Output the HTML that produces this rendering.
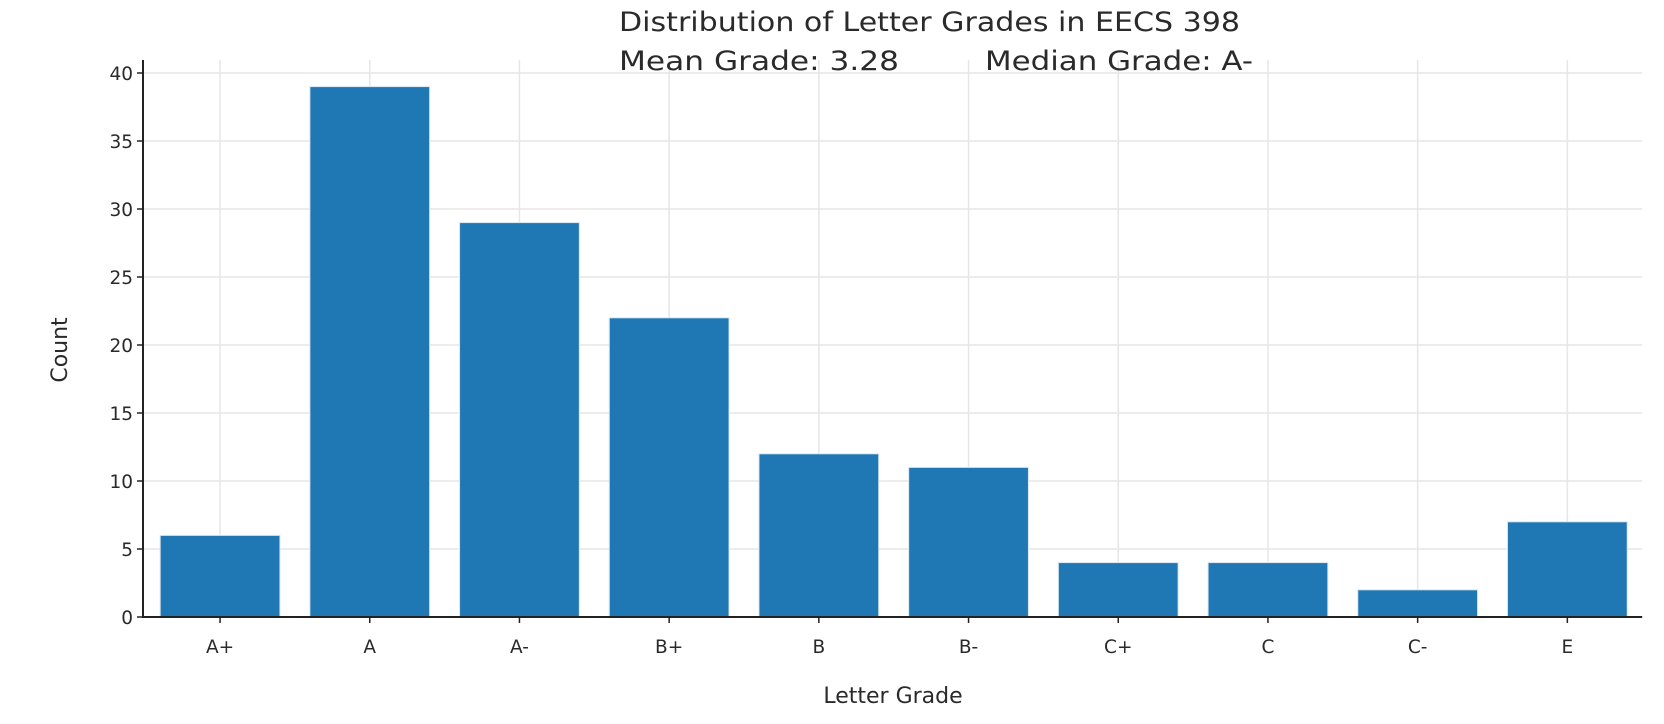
<!DOCTYPE html>
<html><head><meta charset="utf-8"><style>
html,body{margin:0;padding:0;background:#fff;}
svg{display:block;font-family:"DejaVu Sans","Liberation Sans",sans-serif;}
</style></head><body>
<svg id="chart" width="1664" height="724" viewBox="0 0 1664 724" xmlns="http://www.w3.org/2000/svg">
<g id="grid"></g>
<g id="bars"></g>
<g id="axes"></g>
<text x="619" y="31" font-size="27" fill="#2a2a2a" textLength="621" lengthAdjust="spacingAndGlyphs">Distribution of Letter Grades in EECS 398</text>
<text x="619" y="70" font-size="27" fill="#2a2a2a" textLength="280" lengthAdjust="spacingAndGlyphs">Mean Grade: 3.28</text>
<text x="985" y="70" font-size="27" fill="#2a2a2a" textLength="268" lengthAdjust="spacingAndGlyphs">Median Grade: A-</text>
<text x="0" y="0" font-size="22" fill="#2a2a2a" text-anchor="middle" transform="translate(67,350) rotate(-90)">Count</text>
<text x="893" y="703" font-size="22" fill="#2a2a2a" text-anchor="middle">Letter Grade</text>
</svg>
<script>
const categories = ["A+","A","A-","B+","B","B-","C+","C","C-","E"];
const counts = [6,39,29,22,12,11,4,4,2,7];
const yTicks = [0,5,10,15,20,25,30,35,40];

const NS = "http://www.w3.org/2000/svg";
const plotL = 145.2, step = 149.7, y0 = 617, pxPerUnit = 13.6;
const xC = i => plotL + step * (i + 0.5);
const yS = v => y0 - v * pxPerUnit;
function mk(tag, attrs, parent) {
  const e = document.createElementNS(NS, tag);
  for (const k in attrs) e.setAttribute(k, attrs[k]);
  parent.appendChild(e);
  return e;
}
const grid = document.getElementById('grid');
const bars = document.getElementById('bars');
const axes = document.getElementById('axes');
const plotR = plotL + step * categories.length;

yTicks.forEach(t => {
  if (t > 0) {
    const g = mk('line', {x1: 143, x2: plotR, y1: yS(t), y2: yS(t), stroke: '#e6e6e6', 'stroke-width': 1.5}, grid);
    
    
  }
  const tk = mk('line', {x1: 137, x2: 143, y1: yS(t), y2: yS(t), stroke: '#222', 'stroke-width': 1.5}, axes);
  
  
  const lb = mk('text', {x: 133, y: yS(t) + 7, 'font-size': 18.5, 'text-anchor': 'end', fill: '#2a2a2a'}, axes);
  lb.textContent = t;
  
  
});

categories.forEach((c, i) => {
  const x = xC(i);
  const g = mk('line', {x1: x, x2: x, y1: 60, y2: y0, stroke: '#e6e6e6', 'stroke-width': 1.5}, grid);
  
  
  const bw = step * 0.8;
  const b = mk('rect', {x: x - bw / 2, y: yS(counts[i]), width: bw, height: counts[i] * pxPerUnit, fill: '#1f77b4', stroke: '#d8e6f2', 'stroke-width': 1}, bars);
  
  
  const tk = mk('line', {x1: x, x2: x, y1: y0, y2: y0 + 6, stroke: '#222', 'stroke-width': 1.5}, axes);
  
  
  const lb = mk('text', {x: x, y: 653, 'font-size': 18.5, 'text-anchor': 'middle', fill: '#2a2a2a'}, axes);
  lb.textContent = c;
  
  
});

const ya = mk('line', {x1: 143, x2: 143, y1: 60, y2: y0 + 1, stroke: '#222', 'stroke-width': 2}, axes);


const xa = mk('line', {x1: 142, x2: plotR, y1: y0, y2: y0, stroke: '#222', 'stroke-width': 2}, axes);


</script>
</body></html>
